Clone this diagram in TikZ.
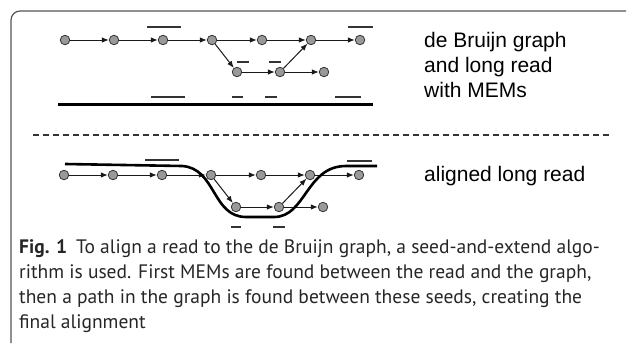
\documentclass[tikz,border=0pt]{standalone}
\usepackage{fontspec}
\usetikzlibrary{arrows.meta}
\newfontfamily\labelfont{Liberation Sans}
\newfontfamily\capfont{PT Sans}
\definecolor{nodefill}{HTML}{999999}
\definecolor{nodeline}{HTML}{333333}
\definecolor{framegray}{HTML}{555555}
\tikzset{
  vtx/.style={circle, inner sep=0pt, minimum size=9.5pt, fill=nodefill, draw=nodeline, line width=0.8pt},
  edge/.style={line width=1pt, draw=black!90, -{Latex[length=7pt,width=5.5pt]}},
  mem/.style={line width=1.3pt, draw=black!80},
  readline/.style={line width=3pt, draw=black},
  sidelabel/.style={anchor=base west, inner sep=0pt, font=\labelfont\fontsize{21}{25}\selectfont},
  capline/.style={anchor=base west, inner sep=0pt, font=\capfont\fontsize{19.5}{25}\selectfont, text=black!85},
}
\begin{document}
\begin{tikzpicture}[x=1pt, y=-1pt]
  \useasboundingbox (0,0) rectangle (627,343);

  % figure frame (open on the right and bottom)
  \draw[framegray, line width=1.2pt, rounded corners=9pt] (11,343) -- (11,11) -- (626,11);

  % ---- upper panel: de Bruijn graph with the long read and its MEMs ----
  \foreach \n/\x in {1/65, 2/114, 3/163, 4/212, 5/262, 6/311, 7/360}
    \node[vtx] (a\n) at (\x,40) {};
  \foreach \n/\x in {1/237, 2/280, 3/324}
    \node[vtx] (b\n) at (\x,72) {};
  \foreach \s/\t in {a1/a2, a2/a3, a3/a4, a4/a5, a5/a6, a6/a7, a4/b1, b1/b2, b2/b3, b2/a6}
    \draw[edge] (\s) -- (\t);

  % MEMs marked on the graph
  \draw[mem] (147,27) -- (181,27);
  \draw[mem] (348,27) -- (373,27);
  \draw[mem] (237,62) -- (249,62);
  \draw[mem] (269,62) -- (281,62);

  % the long read and its MEMs
  \coordinate (r0) at (58,104);
  \coordinate (r1) at (373,104);
  \draw[readline] (r0) -- (r1);
  \draw[mem] (151,97) -- (185,97);
  \draw[mem] (232,97) -- (243,97);
  \draw[mem] (265,97) -- (277,97);
  \draw[mem] (335,97) -- (361,97);

  \node[sidelabel] (la1) at (424,47) {de Bruijn graph};
  \node[sidelabel] (la2) at (424,72) {and long read};
  \node[sidelabel] (la3) at (424,97) {with MEMs};

  % separator
  \coordinate (d0) at (33,135);
  \coordinate (d1) at (612,135);
  \draw[line width=2pt, black!80, dash pattern=on 6pt off 4pt] (d0) -- (d1);

  % ---- lower panel: the read aligned through the graph ----
  \foreach \n/\x in {1/64, 2/113, 3/162, 4/211, 5/261, 6/310, 7/359}
    \node[vtx] (c\n) at (\x,175) {};
  \foreach \n/\x in {1/236, 2/279, 3/323}
    \node[vtx] (e\n) at (\x,207) {};
  \foreach \s/\t in {c1/c2, c2/c3, c3/c4, c4/c5, c5/c6, c6/c7, c4/e1, e1/e2, e2/e3, e2/c6}
    \draw[edge] (\s) -- (\t);

  \draw[mem] (145,160) -- (179,160);
  \draw[mem] (347,161) -- (372,161);
  \draw[mem] (231,227) -- (241,227);
  \draw[mem] (273,227) -- (285,227);

  \coordinate (p0) at (65,164);
  \coordinate (p1) at (182,166);
  \coordinate (p2) at (246,217);
  \coordinate (p3) at (274,217);
  \coordinate (p4) at (346,166);
  \coordinate (p5) at (377,166);
  \draw[readline, line width=2.6pt] (p0) -- (p1)
    .. controls (216,168) and (212,217) .. (p2) -- (p3)
    .. controls (306,217) and (306,166) .. (p4) -- (p5);

  \node[sidelabel] (lb1) at (424,181) {aligned long read};

  % caption, one node per printed line
  \node[capline] (cap1) at (19,253)
    {\textbf{Fig. 1}\hspace{9pt}To align a read to the de Bruijn graph, a seed-and-extend algo-};
  \node[capline] (cap2) at (19,278)
    {rithm is used. First MEMs are found between the read and the graph,};
  \node[capline] (cap3) at (19,303)
    {then a path in the graph is found between these seeds, creating the};
  \node[capline] (cap4) at (19,328) {final alignment};
\end{tikzpicture}
\end{document}
